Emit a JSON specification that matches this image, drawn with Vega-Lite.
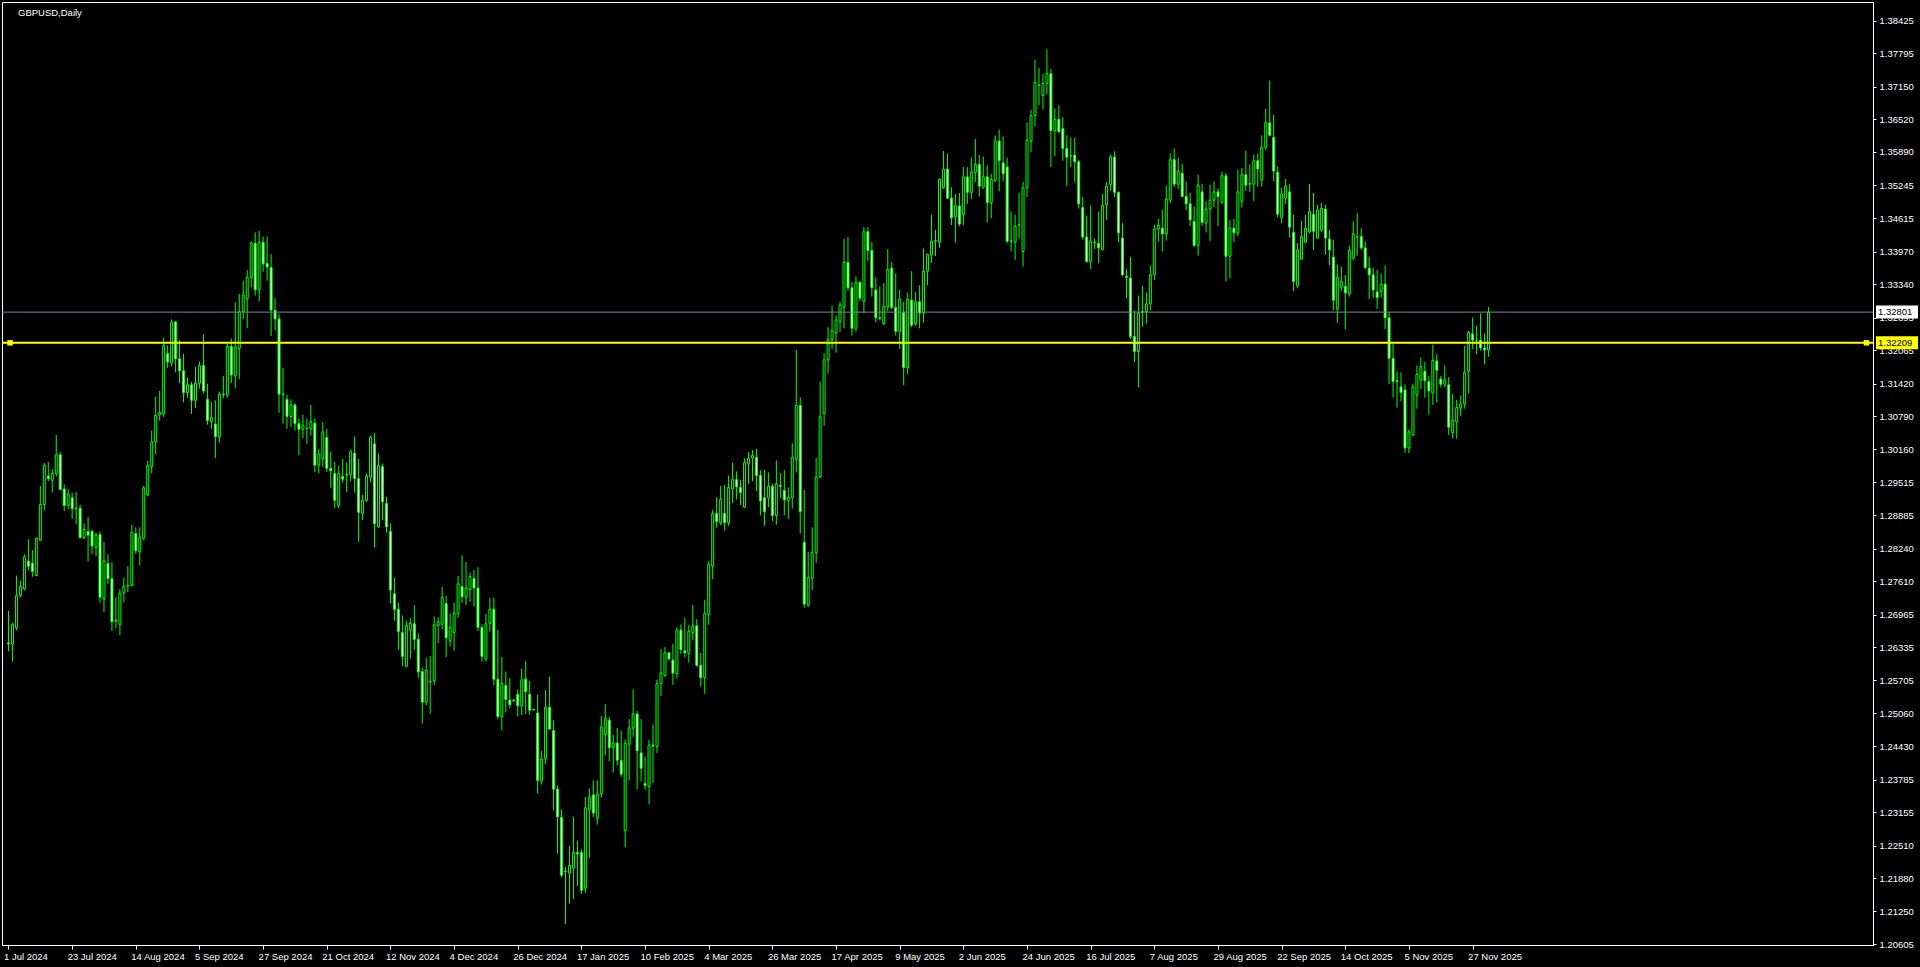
{
"$schema":"https://vega.github.io/schema/vega-lite/v6.json",
"width":1871,"height":943,
"autosize":{"type":"none"},
"padding":{"left":2,"top":2,"right":47,"bottom":22},
"background":"#000000",
"config":{"view":{"stroke":"#ffffff","strokeWidth":1,"fill":"#000000"},"font":"Liberation Sans","axis":{"labelOverlap":false,"labelFlush":false,"labelBound":false,"grid":false,"labelSeparation":0}},
"title":{"text":"GBPUSD,Daily","anchor":"start","frame":"group","orient":"top","offset":-15,"dx":16,"baseline":"top","fontSize":9.5,"fontWeight":"normal","color":"#ffffff","font":"Liberation Sans"},
"datasets":{"bars":[
{"i":0,"o":1.2642,"h":1.2704,"l":1.2626,"c":1.2640},
{"i":1,"o":1.2640,"h":1.2681,"l":1.2606,"c":1.2678},
{"i":2,"o":1.2671,"h":1.2772,"l":1.2666,"c":1.2733},
{"i":3,"o":1.2733,"h":1.2762,"l":1.2730,"c":1.2751},
{"i":4,"o":1.2746,"h":1.2813,"l":1.2743,"c":1.2808},
{"i":5,"o":1.2800,"h":1.2842,"l":1.2782,"c":1.2790},
{"i":6,"o":1.2796,"h":1.2821,"l":1.2770,"c":1.2780},
{"i":7,"o":1.2772,"h":1.2845,"l":1.2771,"c":1.2844},
{"i":8,"o":1.2840,"h":1.2945,"l":1.2839,"c":1.2909},
{"i":9,"o":1.2909,"h":1.2989,"l":1.2898,"c":1.2985},
{"i":10,"o":1.2964,"h":1.2991,"l":1.2954,"c":1.2959},
{"i":11,"o":1.2956,"h":1.2977,"l":1.2932,"c":1.2969},
{"i":12,"o":1.2969,"h":1.3043,"l":1.2963,"c":1.3005},
{"i":13,"o":1.3005,"h":1.3010,"l":1.2936,"c":1.2938},
{"i":14,"o":1.2939,"h":1.2948,"l":1.2896,"c":1.2907},
{"i":15,"o":1.2908,"h":1.2939,"l":1.2900,"c":1.2929},
{"i":16,"o":1.2922,"h":1.2932,"l":1.2881,"c":1.2901},
{"i":17,"o":1.2902,"h":1.2933,"l":1.2871,"c":1.2901},
{"i":18,"o":1.2902,"h":1.2909,"l":1.2844,"c":1.2845},
{"i":19,"o":1.2845,"h":1.2873,"l":1.2842,"c":1.2861},
{"i":20,"o":1.2857,"h":1.2885,"l":1.2799,"c":1.2850},
{"i":21,"o":1.2857,"h":1.2861,"l":1.2813,"c":1.2829},
{"i":22,"o":1.2826,"h":1.2855,"l":1.2809,"c":1.2850},
{"i":23,"o":1.2851,"h":1.2857,"l":1.2720,"c":1.2730},
{"i":24,"o":1.2727,"h":1.2837,"l":1.2701,"c":1.2800},
{"i":25,"o":1.2795,"h":1.2813,"l":1.2756,"c":1.2766},
{"i":26,"o":1.2766,"h":1.2798,"l":1.2665,"c":1.2683},
{"i":27,"o":1.2684,"h":1.2730,"l":1.2671,"c":1.2686},
{"i":28,"o":1.2678,"h":1.2746,"l":1.2657,"c":1.2738},
{"i":29,"o":1.2739,"h":1.2768,"l":1.2720,"c":1.2751},
{"i":30,"o":1.2752,"h":1.2790,"l":1.2740,"c":1.2753},
{"i":31,"o":1.2753,"h":1.2870,"l":1.2751,"c":1.2855},
{"i":32,"o":1.2853,"h":1.2865,"l":1.2814,"c":1.2820},
{"i":33,"o":1.2818,"h":1.2865,"l":1.2792,"c":1.2846},
{"i":34,"o":1.2844,"h":1.2945,"l":1.2840,"c":1.2941},
{"i":35,"o":1.2928,"h":1.2993,"l":1.2925,"c":1.2984},
{"i":36,"o":1.2982,"h":1.3052,"l":1.2969,"c":1.3030},
{"i":37,"o":1.3030,"h":1.3117,"l":1.3006,"c":1.3081},
{"i":38,"o":1.3082,"h":1.3128,"l":1.3071,"c":1.3087},
{"i":39,"o":1.3084,"h":1.3231,"l":1.3078,"c":1.3216},
{"i":40,"o":1.3200,"h":1.3216,"l":1.3172,"c":1.3184},
{"i":41,"o":1.3182,"h":1.3266,"l":1.3175,"c":1.3261},
{"i":42,"o":1.3261,"h":1.3263,"l":1.3164,"c":1.3190},
{"i":43,"o":1.3190,"h":1.3226,"l":1.3143,"c":1.3167},
{"i":44,"o":1.3167,"h":1.3200,"l":1.3106,"c":1.3125},
{"i":45,"o":1.3125,"h":1.3154,"l":1.3115,"c":1.3140},
{"i":46,"o":1.3140,"h":1.3146,"l":1.3084,"c":1.3110},
{"i":47,"o":1.3110,"h":1.3175,"l":1.3095,"c":1.3143},
{"i":48,"o":1.3143,"h":1.3185,"l":1.3133,"c":1.3177},
{"i":49,"o":1.3177,"h":1.3237,"l":1.3123,"c":1.3128},
{"i":50,"o":1.3112,"h":1.3142,"l":1.3063,"c":1.3071},
{"i":51,"o":1.3069,"h":1.3107,"l":1.3055,"c":1.3077},
{"i":52,"o":1.3064,"h":1.3110,"l":1.2999,"c":1.3040},
{"i":53,"o":1.3039,"h":1.3127,"l":1.3028,"c":1.3122},
{"i":54,"o":1.3122,"h":1.3157,"l":1.3114,"c":1.3121},
{"i":55,"o":1.3120,"h":1.3219,"l":1.3115,"c":1.3214},
{"i":56,"o":1.3214,"h":1.3229,"l":1.3143,"c":1.3159},
{"i":57,"o":1.3157,"h":1.3299,"l":1.3133,"c":1.3213},
{"i":58,"o":1.3210,"h":1.3315,"l":1.3151,"c":1.3281},
{"i":59,"o":1.3281,"h":1.3341,"l":1.3267,"c":1.3313},
{"i":60,"o":1.3306,"h":1.3361,"l":1.3249,"c":1.3347},
{"i":61,"o":1.3347,"h":1.3417,"l":1.3328,"c":1.3413},
{"i":62,"o":1.3413,"h":1.3434,"l":1.3312,"c":1.3323},
{"i":63,"o":1.3323,"h":1.3437,"l":1.3301,"c":1.3415},
{"i":64,"o":1.3415,"h":1.3426,"l":1.3358,"c":1.3373},
{"i":65,"o":1.3374,"h":1.3426,"l":1.3341,"c":1.3367},
{"i":66,"o":1.3366,"h":1.3392,"l":1.3234,"c":1.3284},
{"i":67,"o":1.3284,"h":1.3307,"l":1.3245,"c":1.3267},
{"i":68,"o":1.3267,"h":1.3276,"l":1.3086,"c":1.3122},
{"i":69,"o":1.3122,"h":1.3173,"l":1.3065,"c":1.3121},
{"i":70,"o":1.3112,"h":1.3121,"l":1.3055,"c":1.3079},
{"i":71,"o":1.3079,"h":1.3112,"l":1.3058,"c":1.3101},
{"i":72,"o":1.3101,"h":1.3105,"l":1.3052,"c":1.3065},
{"i":73,"o":1.3065,"h":1.3075,"l":1.3004,"c":1.3054},
{"i":74,"o":1.3054,"h":1.3082,"l":1.3037,"c":1.3062},
{"i":75,"o":1.3056,"h":1.3075,"l":1.3026,"c":1.3056},
{"i":76,"o":1.3055,"h":1.3101,"l":1.3042,"c":1.3069},
{"i":77,"o":1.3066,"h":1.3075,"l":1.2971,"c":1.2985},
{"i":78,"o":1.2985,"h":1.3016,"l":1.2969,"c":1.3006},
{"i":79,"o":1.2997,"h":1.3068,"l":1.2982,"c":1.3049},
{"i":80,"o":1.3038,"h":1.3055,"l":1.2972,"c":1.2979},
{"i":81,"o":1.2979,"h":1.3011,"l":1.2941,"c":1.2974},
{"i":82,"o":1.2969,"h":1.2991,"l":1.2902,"c":1.2917},
{"i":83,"o":1.2907,"h":1.2984,"l":1.2902,"c":1.2969},
{"i":84,"o":1.2963,"h":1.2997,"l":1.2951,"c":1.2958},
{"i":85,"o":1.2966,"h":1.2990,"l":1.2933,"c":1.2967},
{"i":86,"o":1.2967,"h":1.3015,"l":1.2954,"c":1.3011},
{"i":87,"o":1.3008,"h":1.3040,"l":1.2932,"c":1.2959},
{"i":88,"o":1.2959,"h":1.2997,"l":1.2837,"c":1.2894},
{"i":89,"o":1.2892,"h":1.2928,"l":1.2879,"c":1.2917},
{"i":90,"o":1.2917,"h":1.2969,"l":1.2914,"c":1.2964},
{"i":91,"o":1.2962,"h":1.3042,"l":1.2952,"c":1.3039},
{"i":92,"o":1.3026,"h":1.3047,"l":1.2826,"c":1.2872},
{"i":93,"o":1.2866,"h":1.3007,"l":1.2864,"c":1.2984},
{"i":94,"o":1.2982,"h":1.2988,"l":1.2879,"c":1.2914},
{"i":95,"o":1.2911,"h":1.2924,"l":1.2855,"c":1.2866},
{"i":96,"o":1.2857,"h":1.2872,"l":1.2718,"c":1.2744},
{"i":97,"o":1.2737,"h":1.2768,"l":1.2685,"c":1.2707},
{"i":98,"o":1.2707,"h":1.2720,"l":1.2629,"c":1.2664},
{"i":99,"o":1.2662,"h":1.2695,"l":1.2597,"c":1.2616},
{"i":100,"o":1.2597,"h":1.2685,"l":1.2595,"c":1.2676},
{"i":101,"o":1.2667,"h":1.2690,"l":1.2612,"c":1.2680},
{"i":102,"o":1.2679,"h":1.2715,"l":1.2629,"c":1.2649},
{"i":103,"o":1.2649,"h":1.2660,"l":1.2575,"c":1.2586},
{"i":104,"o":1.2587,"h":1.2594,"l":1.2487,"c":1.2528},
{"i":105,"o":1.2528,"h":1.2613,"l":1.2522,"c":1.2589},
{"i":106,"o":1.2568,"h":1.2617,"l":1.2506,"c":1.2567},
{"i":107,"o":1.2569,"h":1.2693,"l":1.2561,"c":1.2677},
{"i":108,"o":1.2676,"h":1.2691,"l":1.2642,"c":1.2683},
{"i":109,"o":1.2678,"h":1.2750,"l":1.2668,"c":1.2730},
{"i":110,"o":1.2718,"h":1.2733,"l":1.2615,"c":1.2652},
{"i":111,"o":1.2646,"h":1.2699,"l":1.2635,"c":1.2672},
{"i":112,"o":1.2662,"h":1.2720,"l":1.2627,"c":1.2700},
{"i":113,"o":1.2699,"h":1.2771,"l":1.2690,"c":1.2756},
{"i":114,"o":1.2751,"h":1.2811,"l":1.2719,"c":1.2731},
{"i":115,"o":1.2730,"h":1.2798,"l":1.2715,"c":1.2748},
{"i":116,"o":1.2745,"h":1.2778,"l":1.2721,"c":1.2770},
{"i":117,"o":1.2766,"h":1.2783,"l":1.2712,"c":1.2748},
{"i":118,"o":1.2748,"h":1.2788,"l":1.2665,"c":1.2672},
{"i":119,"o":1.2672,"h":1.2678,"l":1.2606,"c":1.2616},
{"i":120,"o":1.2611,"h":1.2698,"l":1.2606,"c":1.2679},
{"i":121,"o":1.2680,"h":1.2729,"l":1.2664,"c":1.2707},
{"i":122,"o":1.2707,"h":1.2729,"l":1.2561,"c":1.2572},
{"i":123,"o":1.2572,"h":1.2667,"l":1.2495,"c":1.2500},
{"i":124,"o":1.2500,"h":1.2615,"l":1.2473,"c":1.2564},
{"i":125,"o":1.2560,"h":1.2587,"l":1.2508,"c":1.2533},
{"i":126,"o":1.2532,"h":1.2574,"l":1.2516,"c":1.2523},
{"i":127,"o":1.2532,"h":1.2534,"l":1.2528,"c":1.2531},
{"i":128,"o":1.2543,"h":1.2552,"l":1.2500,"c":1.2521},
{"i":129,"o":1.2521,"h":1.2592,"l":1.2503,"c":1.2571},
{"i":130,"o":1.2572,"h":1.2607,"l":1.2505,"c":1.2548},
{"i":131,"o":1.2543,"h":1.2569,"l":1.2503,"c":1.2512},
{"i":132,"o":1.2514,"h":1.2515,"l":1.2512,"c":1.2513},
{"i":133,"o":1.2507,"h":1.2542,"l":1.2352,"c":1.2377},
{"i":134,"o":1.2377,"h":1.2434,"l":1.2369,"c":1.2418},
{"i":135,"o":1.2418,"h":1.2551,"l":1.2408,"c":1.2518},
{"i":136,"o":1.2518,"h":1.2577,"l":1.2474,"c":1.2476},
{"i":137,"o":1.2473,"h":1.2493,"l":1.2319,"c":1.2360},
{"i":138,"o":1.2360,"h":1.2367,"l":1.2236,"c":1.2307},
{"i":139,"o":1.2306,"h":1.2321,"l":1.2190,"c":1.2194},
{"i":140,"o":1.2202,"h":1.2210,"l":1.2100,"c":1.2201},
{"i":141,"o":1.2198,"h":1.2251,"l":1.2139,"c":1.2213},
{"i":142,"o":1.2208,"h":1.2307,"l":1.2148,"c":1.2238},
{"i":143,"o":1.2238,"h":1.2261,"l":1.2173,"c":1.2235},
{"i":144,"o":1.2238,"h":1.2244,"l":1.2158,"c":1.2165},
{"i":145,"o":1.2169,"h":1.2345,"l":1.2160,"c":1.2324},
{"i":146,"o":1.2321,"h":1.2361,"l":1.2227,"c":1.2345},
{"i":147,"o":1.2349,"h":1.2377,"l":1.2306,"c":1.2314},
{"i":148,"o":1.2304,"h":1.2377,"l":1.2292,"c":1.2351},
{"i":149,"o":1.2351,"h":1.2501,"l":1.2344,"c":1.2480},
{"i":150,"o":1.2465,"h":1.2524,"l":1.2425,"c":1.2496},
{"i":151,"o":1.2493,"h":1.2499,"l":1.2414,"c":1.2440},
{"i":152,"o":1.2440,"h":1.2465,"l":1.2392,"c":1.2449},
{"i":153,"o":1.2449,"h":1.2478,"l":1.2406,"c":1.2416},
{"i":154,"o":1.2415,"h":1.2473,"l":1.2384,"c":1.2389},
{"i":155,"o":1.2280,"h":1.2456,"l":1.2248,"c":1.2449},
{"i":156,"o":1.2447,"h":1.2495,"l":1.2377,"c":1.2478},
{"i":157,"o":1.2478,"h":1.2552,"l":1.2461,"c":1.2505},
{"i":158,"o":1.2505,"h":1.2511,"l":1.2360,"c":1.2434},
{"i":159,"o":1.2430,"h":1.2495,"l":1.2375,"c":1.2400},
{"i":160,"o":1.2371,"h":1.2423,"l":1.2359,"c":1.2367},
{"i":161,"o":1.2365,"h":1.2455,"l":1.2331,"c":1.2445},
{"i":162,"o":1.2445,"h":1.2485,"l":1.2372,"c":1.2443},
{"i":163,"o":1.2442,"h":1.2571,"l":1.2430,"c":1.2564},
{"i":164,"o":1.2564,"h":1.2630,"l":1.2540,"c":1.2584},
{"i":165,"o":1.2579,"h":1.2634,"l":1.2577,"c":1.2623},
{"i":166,"o":1.2623,"h":1.2624,"l":1.2609,"c":1.2611},
{"i":167,"o":1.2609,"h":1.2640,"l":1.2561,"c":1.2584},
{"i":168,"o":1.2583,"h":1.2672,"l":1.2573,"c":1.2667},
{"i":169,"o":1.2667,"h":1.2678,"l":1.2621,"c":1.2629},
{"i":170,"o":1.2627,"h":1.2690,"l":1.2614,"c":1.2623},
{"i":171,"o":1.2622,"h":1.2677,"l":1.2604,"c":1.2665},
{"i":172,"o":1.2662,"h":1.2715,"l":1.2647,"c":1.2675},
{"i":173,"o":1.2675,"h":1.2688,"l":1.2596,"c":1.2599},
{"i":174,"o":1.2599,"h":1.2623,"l":1.2558,"c":1.2575},
{"i":175,"o":1.2575,"h":1.2725,"l":1.2544,"c":1.2699},
{"i":176,"o":1.2697,"h":1.2800,"l":1.2677,"c":1.2794},
{"i":177,"o":1.2790,"h":1.2899,"l":1.2765,"c":1.2892},
{"i":178,"o":1.2892,"h":1.2923,"l":1.2864,"c":1.2876},
{"i":179,"o":1.2874,"h":1.2945,"l":1.2869,"c":1.2919},
{"i":180,"o":1.2892,"h":1.2947,"l":1.2859,"c":1.2874},
{"i":181,"o":1.2874,"h":1.2965,"l":1.2868,"c":1.2942},
{"i":182,"o":1.2939,"h":1.2990,"l":1.2912,"c":1.2957},
{"i":183,"o":1.2957,"h":1.2973,"l":1.2919,"c":1.2943},
{"i":184,"o":1.2942,"h":1.2957,"l":1.2908,"c":1.2932},
{"i":185,"o":1.2904,"h":1.2998,"l":1.2902,"c":1.2990},
{"i":186,"o":1.2987,"h":1.3010,"l":1.2949,"c":1.2998},
{"i":187,"o":1.2999,"h":1.3014,"l":1.2954,"c":1.3004},
{"i":188,"o":1.3000,"h":1.3016,"l":1.2935,"c":1.2965},
{"i":189,"o":1.2965,"h":1.2975,"l":1.2888,"c":1.2916},
{"i":190,"o":1.2922,"h":1.2976,"l":1.2868,"c":1.2895},
{"i":191,"o":1.2922,"h":1.2971,"l":1.2904,"c":1.2944},
{"i":192,"o":1.2944,"h":1.2949,"l":1.2877,"c":1.2888},
{"i":193,"o":1.2888,"h":1.2994,"l":1.2870,"c":1.2949},
{"i":194,"o":1.2946,"h":1.2970,"l":1.2921,"c":1.2944},
{"i":195,"o":1.2936,"h":1.2976,"l":1.2888,"c":1.2918},
{"i":196,"o":1.2917,"h":1.2942,"l":1.2881,"c":1.2923},
{"i":197,"o":1.2922,"h":1.3027,"l":1.2901,"c":1.3000},
{"i":198,"o":1.2996,"h":1.3207,"l":1.2971,"c":1.3100},
{"i":199,"o":1.3100,"h":1.3116,"l":1.2853,"c":1.2895},
{"i":200,"o":1.2836,"h":1.2937,"l":1.2710,"c":1.2717},
{"i":201,"o":1.2715,"h":1.2818,"l":1.2712,"c":1.2768},
{"i":202,"o":1.2767,"h":1.2865,"l":1.2744,"c":1.2816},
{"i":203,"o":1.2816,"h":1.2999,"l":1.2796,"c":1.2962},
{"i":204,"o":1.2962,"h":1.3146,"l":1.2960,"c":1.3078},
{"i":205,"o":1.3085,"h":1.3201,"l":1.3061,"c":1.3188},
{"i":206,"o":1.3188,"h":1.3251,"l":1.3162,"c":1.3227},
{"i":207,"o":1.3227,"h":1.3292,"l":1.3209,"c":1.3244},
{"i":208,"o":1.3240,"h":1.3274,"l":1.3202,"c":1.3265},
{"i":209,"o":1.3262,"h":1.3300,"l":1.3242,"c":1.3294},
{"i":210,"o":1.3290,"h":1.3421,"l":1.3249,"c":1.3376},
{"i":211,"o":1.3376,"h":1.3425,"l":1.3321,"c":1.3327},
{"i":212,"o":1.3327,"h":1.3338,"l":1.3235,"c":1.3249},
{"i":213,"o":1.3249,"h":1.3349,"l":1.3242,"c":1.3337},
{"i":214,"o":1.3337,"h":1.3341,"l":1.3301,"c":1.3307},
{"i":215,"o":1.3301,"h":1.3444,"l":1.3278,"c":1.3435},
{"i":216,"o":1.3435,"h":1.3444,"l":1.3379,"c":1.3399},
{"i":217,"o":1.3399,"h":1.3415,"l":1.3310,"c":1.3327},
{"i":218,"o":1.3323,"h":1.3347,"l":1.3260,"c":1.3269},
{"i":219,"o":1.3269,"h":1.3330,"l":1.3264,"c":1.3268},
{"i":220,"o":1.3258,"h":1.3336,"l":1.3255,"c":1.3291},
{"i":221,"o":1.3290,"h":1.3402,"l":1.3282,"c":1.3362},
{"i":222,"o":1.3365,"h":1.3377,"l":1.3285,"c":1.3289},
{"i":223,"o":1.3289,"h":1.3355,"l":1.3235,"c":1.3243},
{"i":224,"o":1.3243,"h":1.3323,"l":1.3209,"c":1.3305},
{"i":225,"o":1.3279,"h":1.3300,"l":1.3139,"c":1.3173},
{"i":226,"o":1.3173,"h":1.3318,"l":1.3160,"c":1.3305},
{"i":227,"o":1.3303,"h":1.3359,"l":1.3251,"c":1.3255},
{"i":228,"o":1.3258,"h":1.3319,"l":1.3253,"c":1.3300},
{"i":229,"o":1.3300,"h":1.3332,"l":1.3249,"c":1.3278},
{"i":230,"o":1.3278,"h":1.3403,"l":1.3260,"c":1.3359},
{"i":231,"o":1.3359,"h":1.3393,"l":1.3332,"c":1.3391},
{"i":232,"o":1.3390,"h":1.3468,"l":1.3375,"c":1.3417},
{"i":233,"o":1.3417,"h":1.3439,"l":1.3388,"c":1.3418},
{"i":234,"o":1.3415,"h":1.3538,"l":1.3404,"c":1.3536},
{"i":235,"o":1.3520,"h":1.3591,"l":1.3518,"c":1.3556},
{"i":236,"o":1.3556,"h":1.3586,"l":1.3498,"c":1.3500},
{"i":237,"o":1.3500,"h":1.3521,"l":1.3448,"c":1.3462},
{"i":238,"o":1.3464,"h":1.3508,"l":1.3414,"c":1.3485},
{"i":239,"o":1.3485,"h":1.3510,"l":1.3446,"c":1.3450},
{"i":240,"o":1.3468,"h":1.3560,"l":1.3448,"c":1.3541},
{"i":241,"o":1.3541,"h":1.3560,"l":1.3489,"c":1.3511},
{"i":242,"o":1.3511,"h":1.3578,"l":1.3498,"c":1.3550},
{"i":243,"o":1.3549,"h":1.3614,"l":1.3531,"c":1.3565},
{"i":244,"o":1.3565,"h":1.3583,"l":1.3503,"c":1.3523},
{"i":245,"o":1.3521,"h":1.3580,"l":1.3518,"c":1.3541},
{"i":246,"o":1.3541,"h":1.3563,"l":1.3453,"c":1.3491},
{"i":247,"o":1.3491,"h":1.3547,"l":1.3461,"c":1.3536},
{"i":248,"o":1.3534,"h":1.3621,"l":1.3531,"c":1.3610},
{"i":249,"o":1.3610,"h":1.3632,"l":1.3513,"c":1.3572},
{"i":250,"o":1.3568,"h":1.3619,"l":1.3532,"c":1.3547},
{"i":251,"o":1.3560,"h":1.3578,"l":1.3413,"c":1.3417},
{"i":252,"o":1.3417,"h":1.3474,"l":1.3397,"c":1.3417},
{"i":253,"o":1.3415,"h":1.3468,"l":1.3381,"c":1.3446},
{"i":254,"o":1.3448,"h":1.3510,"l":1.3422,"c":1.3448},
{"i":255,"o":1.3397,"h":1.3531,"l":1.3368,"c":1.3520},
{"i":256,"o":1.3520,"h":1.3646,"l":1.3502,"c":1.3612},
{"i":257,"o":1.3610,"h":1.3670,"l":1.3588,"c":1.3659},
{"i":258,"o":1.3659,"h":1.3767,"l":1.3639,"c":1.3723},
{"i":259,"o":1.3718,"h":1.3751,"l":1.3679,"c":1.3718},
{"i":260,"o":1.3698,"h":1.3740,"l":1.3671,"c":1.3721},
{"i":261,"o":1.3721,"h":1.3787,"l":1.3700,"c":1.3740},
{"i":262,"o":1.3740,"h":1.3749,"l":1.3560,"c":1.3630},
{"i":263,"o":1.3630,"h":1.3673,"l":1.3581,"c":1.3652},
{"i":264,"o":1.3652,"h":1.3679,"l":1.3626,"c":1.3628},
{"i":265,"o":1.3634,"h":1.3656,"l":1.3572,"c":1.3596},
{"i":266,"o":1.3596,"h":1.3621,"l":1.3523,"c":1.3579},
{"i":267,"o":1.3581,"h":1.3617,"l":1.3560,"c":1.3582},
{"i":268,"o":1.3583,"h":1.3617,"l":1.3531,"c":1.3570},
{"i":269,"o":1.3570,"h":1.3574,"l":1.3480,"c":1.3489},
{"i":270,"o":1.3482,"h":1.3502,"l":1.3420,"c":1.3425},
{"i":271,"o":1.3425,"h":1.3466,"l":1.3375,"c":1.3378},
{"i":272,"o":1.3377,"h":1.3486,"l":1.3363,"c":1.3417},
{"i":273,"o":1.3415,"h":1.3422,"l":1.3402,"c":1.3414},
{"i":274,"o":1.3413,"h":1.3474,"l":1.3374,"c":1.3404},
{"i":275,"o":1.3401,"h":1.3508,"l":1.3399,"c":1.3486},
{"i":276,"o":1.3487,"h":1.3531,"l":1.3458,"c":1.3523},
{"i":277,"o":1.3526,"h":1.3584,"l":1.3514,"c":1.3579},
{"i":278,"o":1.3579,"h":1.3590,"l":1.3502,"c":1.3511},
{"i":279,"o":1.3511,"h":1.3513,"l":1.3415,"c":1.3433},
{"i":280,"o":1.3423,"h":1.3452,"l":1.3350,"c":1.3352},
{"i":281,"o":1.3349,"h":1.3363,"l":1.3307,"c":1.3347},
{"i":282,"o":1.3346,"h":1.3387,"l":1.3228,"c":1.3233},
{"i":283,"o":1.3233,"h":1.3283,"l":1.3184,"c":1.3204},
{"i":284,"o":1.3204,"h":1.3312,"l":1.3135,"c":1.3278},
{"i":285,"o":1.3280,"h":1.3331,"l":1.3252,"c":1.3281},
{"i":286,"o":1.3281,"h":1.3318,"l":1.3258,"c":1.3296},
{"i":287,"o":1.3296,"h":1.3370,"l":1.3283,"c":1.3352},
{"i":288,"o":1.3352,"h":1.3449,"l":1.3342,"c":1.3440},
{"i":289,"o":1.3440,"h":1.3460,"l":1.3416,"c":1.3448},
{"i":290,"o":1.3442,"h":1.3478,"l":1.3397,"c":1.3431},
{"i":291,"o":1.3431,"h":1.3524,"l":1.3418,"c":1.3498},
{"i":292,"o":1.3496,"h":1.3586,"l":1.3490,"c":1.3574},
{"i":293,"o":1.3574,"h":1.3596,"l":1.3521,"c":1.3527},
{"i":294,"o":1.3527,"h":1.3577,"l":1.3518,"c":1.3552},
{"i":295,"o":1.3548,"h":1.3566,"l":1.3502,"c":1.3503},
{"i":296,"o":1.3503,"h":1.3532,"l":1.3477,"c":1.3489},
{"i":297,"o":1.3489,"h":1.3510,"l":1.3446,"c":1.3458},
{"i":298,"o":1.3455,"h":1.3484,"l":1.3405,"c":1.3409},
{"i":299,"o":1.3409,"h":1.3545,"l":1.3389,"c":1.3525},
{"i":300,"o":1.3512,"h":1.3527,"l":1.3446,"c":1.3453},
{"i":301,"o":1.3452,"h":1.3494,"l":1.3434,"c":1.3479},
{"i":302,"o":1.3479,"h":1.3526,"l":1.3417,"c":1.3496},
{"i":303,"o":1.3496,"h":1.3532,"l":1.3482,"c":1.3512},
{"i":304,"o":1.3512,"h":1.3519,"l":1.3446,"c":1.3503},
{"i":305,"o":1.3492,"h":1.3551,"l":1.3489,"c":1.3543},
{"i":306,"o":1.3543,"h":1.3548,"l":1.3339,"c":1.3388},
{"i":307,"o":1.3388,"h":1.3458,"l":1.3345,"c":1.3442},
{"i":308,"o":1.3442,"h":1.3460,"l":1.3415,"c":1.3433},
{"i":309,"o":1.3433,"h":1.3555,"l":1.3426,"c":1.3512},
{"i":310,"o":1.3494,"h":1.3558,"l":1.3482,"c":1.3545},
{"i":311,"o":1.3545,"h":1.3592,"l":1.3514,"c":1.3525},
{"i":312,"o":1.3527,"h":1.3565,"l":1.3512,"c":1.3528},
{"i":313,"o":1.3527,"h":1.3584,"l":1.3494,"c":1.3572},
{"i":314,"o":1.3572,"h":1.3586,"l":1.3522,"c":1.3556},
{"i":315,"o":1.3535,"h":1.3621,"l":1.3522,"c":1.3598},
{"i":316,"o":1.3598,"h":1.3672,"l":1.3593,"c":1.3645},
{"i":317,"o":1.3645,"h":1.3727,"l":1.3619,"c":1.3621},
{"i":318,"o":1.3617,"h":1.3661,"l":1.3532,"c":1.3552},
{"i":319,"o":1.3550,"h":1.3561,"l":1.3463,"c":1.3469},
{"i":320,"o":1.3463,"h":1.3520,"l":1.3451,"c":1.3508},
{"i":321,"o":1.3500,"h":1.3537,"l":1.3489,"c":1.3523},
{"i":322,"o":1.3512,"h":1.3527,"l":1.3424,"c":1.3444},
{"i":323,"o":1.3434,"h":1.3468,"l":1.3321,"c":1.3339},
{"i":324,"o":1.3331,"h":1.3413,"l":1.3326,"c":1.3400},
{"i":325,"o":1.3382,"h":1.3456,"l":1.3381,"c":1.3426},
{"i":326,"o":1.3415,"h":1.3468,"l":1.3413,"c":1.3442},
{"i":327,"o":1.3435,"h":1.3527,"l":1.3432,"c":1.3474},
{"i":328,"o":1.3469,"h":1.3510,"l":1.3400,"c":1.3436},
{"i":329,"o":1.3423,"h":1.3487,"l":1.3422,"c":1.3477},
{"i":330,"o":1.3438,"h":1.3491,"l":1.3435,"c":1.3480},
{"i":331,"o":1.3479,"h":1.3487,"l":1.3391,"c":1.3423},
{"i":332,"o":1.3421,"h":1.3438,"l":1.3371,"c":1.3400},
{"i":333,"o":1.3386,"h":1.3419,"l":1.3283,"c":1.3303},
{"i":334,"o":1.3286,"h":1.3372,"l":1.3260,"c":1.3347},
{"i":335,"o":1.3328,"h":1.3368,"l":1.3321,"c":1.3339},
{"i":336,"o":1.3330,"h":1.3352,"l":1.3247,"c":1.3317},
{"i":337,"o":1.3315,"h":1.3408,"l":1.3310,"c":1.3399},
{"i":338,"o":1.3384,"h":1.3455,"l":1.3381,"c":1.3431},
{"i":339,"o":1.3425,"h":1.3471,"l":1.3389,"c":1.3425},
{"i":340,"o":1.3426,"h":1.3442,"l":1.3400,"c":1.3404},
{"i":341,"o":1.3404,"h":1.3416,"l":1.3363,"c":1.3366},
{"i":342,"o":1.3365,"h":1.3387,"l":1.3305,"c":1.3352},
{"i":343,"o":1.3352,"h":1.3366,"l":1.3307,"c":1.3323},
{"i":344,"o":1.3319,"h":1.3362,"l":1.3286,"c":1.3308},
{"i":345,"o":1.3320,"h":1.3354,"l":1.3308,"c":1.3334},
{"i":346,"o":1.3334,"h":1.3370,"l":1.3247,"c":1.3269},
{"i":347,"o":1.3269,"h":1.3280,"l":1.3141,"c":1.3191},
{"i":348,"o":1.3191,"h":1.3220,"l":1.3115,"c":1.3146},
{"i":349,"o":1.3148,"h":1.3166,"l":1.3096,"c":1.3146},
{"i":350,"o":1.3136,"h":1.3164,"l":1.3108,"c":1.3125},
{"i":351,"o":1.3130,"h":1.3141,"l":1.3009,"c":1.3018},
{"i":352,"o":1.3018,"h":1.3054,"l":1.3008,"c":1.3049},
{"i":353,"o":1.3043,"h":1.3142,"l":1.3041,"c":1.3136},
{"i":354,"o":1.3120,"h":1.3177,"l":1.3094,"c":1.3160},
{"i":355,"o":1.3149,"h":1.3193,"l":1.3132,"c":1.3175},
{"i":356,"o":1.3166,"h":1.3184,"l":1.3115,"c":1.3148},
{"i":357,"o":1.3146,"h":1.3157,"l":1.3083,"c":1.3128},
{"i":358,"o":1.3124,"h":1.3217,"l":1.3101,"c":1.3187},
{"i":359,"o":1.3186,"h":1.3199,"l":1.3106,"c":1.3168},
{"i":360,"o":1.3151,"h":1.3157,"l":1.3135,"c":1.3141},
{"i":361,"o":1.3141,"h":1.3177,"l":1.3135,"c":1.3149},
{"i":362,"o":1.3140,"h":1.3155,"l":1.3043,"c":1.3058},
{"i":363,"o":1.3048,"h":1.3122,"l":1.3036,"c":1.3072},
{"i":364,"o":1.3068,"h":1.3111,"l":1.3036,"c":1.3096},
{"i":365,"o":1.3095,"h":1.3119,"l":1.3080,"c":1.3103},
{"i":366,"o":1.3103,"h":1.3215,"l":1.3094,"c":1.3164},
{"i":367,"o":1.3166,"h":1.3244,"l":1.3123,"c":1.3241},
{"i":368,"o":1.3238,"h":1.3270,"l":1.3209,"c":1.3226},
{"i":369,"o":1.3225,"h":1.3254,"l":1.3199,"c":1.3225},
{"i":370,"o":1.3226,"h":1.3278,"l":1.3206,"c":1.3211},
{"i":371,"o":1.3211,"h":1.3239,"l":1.3180,"c":1.3207},
{"i":372,"o":1.3207,"h":1.3290,"l":1.3194,"c":1.3280}
],
"levels":[{"p":1.32801,"kind":"bid"},{"p":1.32209,"kind":"hline"}]
},
"layer":[
{"data":{"name":"bars"},
 "mark":{"type":"rule","color":"#00ff00","strokeWidth":1},
 "encoding":{
  "x":{"field":"i","type":"quantitative","scale":{"domain":[-0.375,467.375],"nice":false,"zero":false},
   "axis":{"orient":"bottom","title":null,"grid":false,"tickCount":100,"values":[0,16,32,48,64,80,96,112,128,144,160,176,192,208,224,240,256,272,288,304,320,336,352,368],
    "labelExpr":"['1 Jul 2024','23 Jul 2024','14 Aug 2024','5 Sep 2024','27 Sep 2024','21 Oct 2024','12 Nov 2024','4 Dec 2024','26 Dec 2024','17 Jan 2025','10 Feb 2025','4 Mar 2025','26 Mar 2025','17 Apr 2025','9 May 2025','2 Jun 2025','24 Jun 2025','16 Jul 2025','7 Aug 2025','29 Aug 2025','22 Sep 2025','14 Oct 2025','5 Nov 2025','27 Nov 2025'][round(datum.value/16)]",
    "labelAlign":"left","labelBaseline":"top","labelPadding":2,"labelOffset":-5,"labelFlush":false,"labelOverlap":false,"labelBound":false,
    "labelColor":"#ffffff","labelFont":"Liberation Sans","labelFontSize":9.5,"tickSize":4,"tickColor":"#ffffff","domainColor":"#ffffff"}},
  "y":{"field":"l","type":"quantitative","scale":{"domain":[1.20595,1.38782],"nice":false,"zero":false},
   "axis":{"orient":"right","title":null,"grid":false,"tickCount":100,
    "values":[1.38425,1.37795,1.3715,1.3652,1.3589,1.35245,1.34615,1.3397,1.3334,1.32695,1.32065,1.3142,1.3079,1.3016,1.29515,1.28885,1.2824,1.2761,1.26965,1.26335,1.25705,1.2506,1.2443,1.23785,1.23155,1.2251,1.2188,1.2125,1.20605],
    "labelExpr":"format(datum.value,'.5f')","labelPadding":3,"labelFlush":false,"labelOverlap":false,"labelBound":false,"labelSeparation":0,
    "labelColor":"#ffffff","labelFont":"Liberation Sans","labelFontSize":9.5,"tickSize":3,"tickColor":"#ffffff","domainColor":"#ffffff"}},
  "y2":{"field":"h"}}},
{"data":{"name":"bars"},
 "mark":{"type":"bar","width":2,"stroke":"#00ff00","strokeWidth":1},
 "encoding":{
  "x":{"field":"i","type":"quantitative"},
  "y":{"field":"o","type":"quantitative"},
  "y2":{"field":"c"},
  "fill":{"condition":{"test":"datum.c > datum.o","value":"#000000"},"value":"#ffffff"}}},
{"data":{"name":"levels"},
 "mark":{"type":"rule"},
 "encoding":{
  "y":{"field":"p","type":"quantitative"},
  "color":{"field":"kind","type":"nominal","scale":{"domain":["bid","hline"],"range":["#778899","#ffff00"]},"legend":null},
  "strokeWidth":{"field":"kind","type":"nominal","scale":{"domain":["bid","hline"],"range":[1,2]},"legend":null}}},
{"data":{"name":"levels"},
 "transform":[{"filter":"datum.kind == 'hline'"}],
 "mark":{"type":"point","shape":"square","filled":true,"size":30,"color":"#ffff00","opacity":1},
 "encoding":{"y":{"field":"p","type":"quantitative"},"x":{"datum":0.4,"type":"quantitative"}}},
{"data":{"name":"levels"},
 "transform":[{"filter":"datum.kind == 'hline'"}],
 "mark":{"type":"point","shape":"square","filled":true,"size":30,"color":"#ffff00","opacity":1},
 "encoding":{"y":{"field":"p","type":"quantitative"},"x":{"datum":467.0,"type":"quantitative"}}},
{"data":{"name":"levels"},
 "mark":{"type":"rule","strokeWidth":13,"xOffset":3,"x2Offset":45,"strokeCap":"butt"},
 "encoding":{
  "y":{"field":"p","type":"quantitative"},
  "x":{"value":"width"},"x2":{"value":"width"},
  "color":{"field":"kind","type":"nominal","scale":{"domain":["bid","hline"],"range":["#ffffff","#ffff00"]},"legend":null}}},
{"data":{"name":"levels"},
 "mark":{"type":"text","align":"left","baseline":"middle","dx":5,"font":"Liberation Sans","fontSize":9.5,"color":"#000000"},
 "encoding":{
  "y":{"field":"p","type":"quantitative"},
  "x":{"value":"width"},
  "text":{"field":"p","type":"quantitative","format":".5f"}}}
],
"resolve":{"scale":{"color":"independent","strokeWidth":"independent"}}
}
